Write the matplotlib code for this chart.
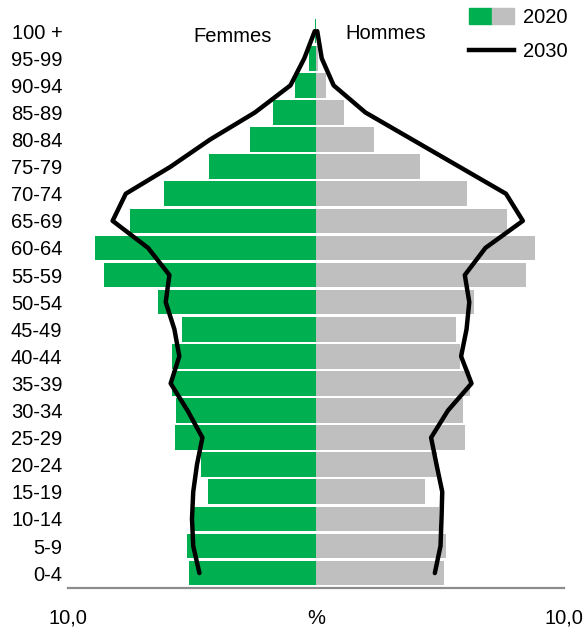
import numpy as np
import matplotlib.pyplot as plt
from matplotlib.patches import Patch
from matplotlib.lines import Line2D
from matplotlib.legend_handler import HandlerTuple

plt.rcParams['font.family'] = ['Liberation Sans', 'DejaVu Sans']

ages = ["0-4", "5-9", "10-14", "15-19", "20-24", "25-29", "30-34", "35-39",
        "40-44", "45-49", "50-54", "55-59", "60-64", "65-69", "70-74",
        "75-79", "80-84", "85-89", "90-94", "95-99", "100 +"]

# 2020 shares (%)
femmes_2020 = [5.11, 5.20, 4.95, 4.34, 4.62, 5.69, 5.66, 5.82, 5.79, 5.39, 6.36,
               8.56, 8.91, 7.51, 6.13, 4.32, 2.67, 1.72, 0.85, 0.30, 0.04]
hommes_2020 = [5.15, 5.24, 4.94, 4.38, 4.86, 6.00, 5.91, 6.19, 5.82, 5.63, 6.39,
               8.46, 8.84, 7.70, 6.07, 4.21, 2.33, 1.13, 0.41, 0.08, 0.01]

# 2030 projection (%)
femmes_2030 = [4.70, 4.95, 5.00, 4.95, 4.80, 4.58, 5.18, 5.86, 5.51, 5.71, 6.06,
               5.91, 6.77, 8.20, 7.67, 5.86, 4.27, 2.46, 1.03, 0.47, 0.05]
hommes_2030 = [4.79, 5.02, 5.06, 5.09, 4.86, 4.64, 5.32, 6.27, 5.85, 6.07, 6.18,
               6.00, 6.83, 8.34, 7.66, 5.77, 3.88, 1.99, 0.71, 0.23, 0.05]

green = "#00B050"
grey = "#BFBFBF"
fs = 14.5

fig = plt.figure(figsize=(5.84, 6.35), dpi=100)
ax = fig.add_axes([0.1164, 0.074, 0.8494, 0.926])

y = np.arange(len(ages))
ax.barh(y, -np.array(femmes_2020), height=0.91, color=green, zorder=2)
ax.barh(y, hommes_2020, height=0.91, color=grey, zorder=2)

ax.plot(-np.array(femmes_2030), y, color="black", lw=3.2, solid_joinstyle="round",
        solid_capstyle="round", zorder=3)
ax.plot(hommes_2030, y, color="black", lw=3.2, solid_joinstyle="round",
        solid_capstyle="round", zorder=3)

ax.set_xlim(-10, 10)
ax.set_ylim(-0.55, 21.15)

ax.set_yticks(y)
ax.set_yticklabels(ages, fontsize=fs)
ax.set_xticks([-10, 0, 10])
ax.set_xticklabels(["10,0", "%", "10,0"], fontsize=fs)
ax.tick_params(axis="y", length=0, pad=4)
ax.tick_params(axis="x", length=0, pad=15)

for s in ["left", "right", "top"]:
    ax.spines[s].set_visible(False)
ax.spines["bottom"].set_color("#8C8C8C")
ax.spines["bottom"].set_linewidth(1.6)

ax.text(-3.35, 19.8, "Femmes", ha="center", va="center", fontsize=fs)
ax.text(2.82, 19.92, "Hommes", ha="center", va="center", fontsize=fs)

handles = [(Patch(color=green), Patch(color=grey)),
           Line2D([], [], color="black", lw=3.2)]
leg = fig.legend(handles, ["2020", "2030"],
                 handler_map={tuple: HandlerTuple(ndivide=None, pad=0)},
                 loc="upper right", bbox_to_anchor=(568 / 584, 1 - 8 / 635),
                 frameon=False, fontsize=fs, handlelength=2.25,
                 handleheight=0.85, handletextpad=0.45, labelspacing=0.75,
                 borderpad=0, borderaxespad=0)

fig.savefig("out.png", dpi=100)
